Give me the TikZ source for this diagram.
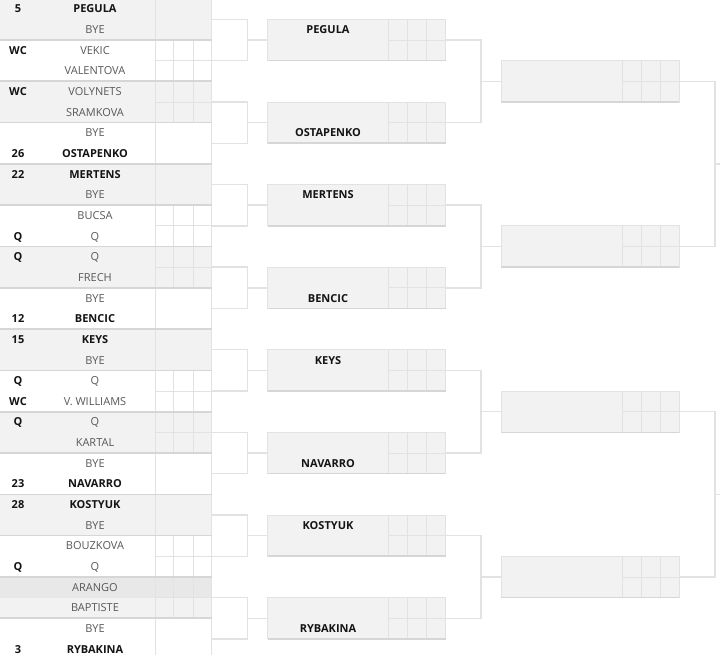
\documentclass[tikz,border=0pt]{standalone}
\usepackage{fontspec}
\setmainfont{Open Sans}
\usetikzlibrary{calc}

\definecolor{cellfill}{RGB}{242,242,242}
\definecolor{hoverfill}{RGB}{232,232,232}
\definecolor{gridline}{RGB}{226,226,226}
\definecolor{rimline}{RGB}{214,214,214}
\definecolor{inkdark}{RGB}{20,20,20}
\definecolor{inklight}{RGB}{88,88,88}

\begin{document}
\begin{tikzpicture}[x=1pt,y=-1pt]
  \tikzset{
    match/.style={rectangle, minimum width=211.5pt, minimum height=41.3pt, inner sep=0pt, outer sep=0pt, draw=none},
    slot/.style={rectangle, minimum width=178pt, minimum height=41.3pt, inner sep=0pt, outer sep=0pt, fill=cellfill, draw=gridline, line width=0.8pt},
    player/.style={font=\fontsize{11}{13}\selectfont, text=inklight, inner sep=0pt, text height=7.8pt, text depth=0pt},
    seeded/.style={player, font=\fontsize{11}{13}\selectfont\bfseries, text=inkdark},
    seedmark/.style={seeded},
    cellline/.style={draw=gridline, line width=0.8pt},
    rim/.style={draw=rimline, line width=1.6pt},
    link/.style={draw=gridline, line width=1.4pt}
  }
  \useasboundingbox[fill=white] (0,0) rectangle (720,655);

  % first round boxes
  \foreach \k in {1,...,16} {
    \pgfmathsetmacro{\yc}{-1.3+(\k-0.5)*41.3}
    \ifodd\k
      \node[match, fill=cellfill] (m\k) at (105.75,\yc) {};
    \else
      \node[match, fill=white] (m\k) at (105.75,\yc) {};
    \fi
  }
  \fill[hoverfill] (m15.north west) rectangle (m15.east);
  \foreach \k in {2,3,6,7,10,11,14,15} {
    \draw[cellline] (m\k.north west -| 173.5,0) -- (m\k.south west -| 173.5,0);
    \draw[cellline] (m\k.north west -| 193,0) -- (m\k.south west -| 193,0);
    \draw[cellline] (m\k.west -| 155,0) -- (m\k.east);
  }
  \draw[cellline] (155,0) -- (155,655);
  \draw[cellline] (211.5,0) -- (211.5,655);
  \foreach \k in {1,...,16}
    \draw[rim] (m\k.south west) -- (m\k.south east);

  % seeds
  \node[seedmark] (s1) at (18,9.0) {5};
  \node[seedmark] (s3) at (18,50.3) {WC};
  \node[seedmark] (s5) at (18,91.6) {WC};
  \node[seedmark] (s8) at (18,153.6) {26};
  \node[seedmark] (s9) at (18,174.2) {22};
  \node[seedmark] (s12) at (18,236.2) {Q};
  \node[seedmark] (s13) at (18,256.8) {Q};
  \node[seedmark] (s16) at (18,318.8) {12};
  \node[seedmark] (s17) at (18,339.4) {15};
  \node[seedmark] (s19) at (18,380.7) {Q};
  \node[seedmark] (s20) at (18,401.4) {WC};
  \node[seedmark] (s21) at (18,422.0) {Q};
  \node[seedmark] (s24) at (18,484.0) {23};
  \node[seedmark] (s25) at (18,504.6) {28};
  \node[seedmark] (s28) at (18,566.6) {Q};
  \node[seedmark] (s32) at (18,649.2) {3};

  % players
  \node[seeded] (n1) at (95,9.0) {PEGULA};
  \node[player] (n2) at (95,29.7) {BYE};
  \node[player] (n3) at (95,50.3) {VEKIC};
  \node[player] (n4) at (95,71.0) {VALENTOVA};
  \node[player] (n5) at (95,91.6) {VOLYNETS};
  \node[player] (n6) at (95,112.3) {SRAMKOVA};
  \node[player] (n7) at (95,132.9) {BYE};
  \node[seeded] (n8) at (95,153.6) {OSTAPENKO};
  \node[seeded] (n9) at (95,174.2) {MERTENS};
  \node[player] (n10) at (95,194.9) {BYE};
  \node[player] (n11) at (95,215.5) {BUCSA};
  \node[player] (n12) at (95,236.2) {Q};
  \node[player] (n13) at (95,256.8) {Q};
  \node[player] (n14) at (95,277.5) {FRECH};
  \node[player] (n15) at (95,298.1) {BYE};
  \node[seeded] (n16) at (95,318.8) {BENCIC};
  \node[seeded] (n17) at (95,339.4) {KEYS};
  \node[player] (n18) at (95,360.1) {BYE};
  \node[player] (n19) at (95,380.7) {Q};
  \node[player] (n20) at (95,401.4) {V. WILLIAMS};
  \node[player] (n21) at (95,422.0) {Q};
  \node[player] (n22) at (95,442.7) {KARTAL};
  \node[player] (n23) at (95,463.3) {BYE};
  \node[seeded] (n24) at (95,484.0) {NAVARRO};
  \node[seeded] (n25) at (95,504.6) {KOSTYUK};
  \node[player] (n26) at (95,525.3) {BYE};
  \node[player] (n27) at (95,545.9) {BOUZKOVA};
  \node[player] (n28) at (95,566.6) {Q};
  \node[player] (n29) at (95,587.2) {ARANGO};
  \node[player] (n30) at (95,607.9) {BAPTISTE};
  \node[player] (n31) at (95,628.5) {BYE};
  \node[seeded] (n32) at (95,649.2) {RYBAKINA};

  % second and third round boxes
  \node[slot] (r1) at (356.7,40.0) {};
  \node[slot] (r2) at (356.7,122.6) {};
  \node[slot] (r3) at (356.7,205.2) {};
  \node[slot] (r4) at (356.7,287.8) {};
  \node[slot] (r5) at (356.7,370.4) {};
  \node[slot] (r6) at (356.7,453.0) {};
  \node[slot] (r7) at (356.7,535.6) {};
  \node[slot] (r8) at (356.7,618.2) {};
  \node[slot] (q1) at (590.3,81.3) {};
  \node[slot] (q2) at (590.3,246.5) {};
  \node[slot] (q3) at (590.3,411.7) {};
  \node[slot] (q4) at (590.3,576.9) {};
  \foreach \s in {r1,r2,r3,r4,r5,r6,r7,r8,q1,q2,q3,q4} {
    \foreach \dx in {120.6,140,159}
      \draw[cellline] ($(\s.north west)+(\dx,0)$) -- ($(\s.south west)+(\dx,0)$);
    \draw[cellline] ($(\s.west)+(120.6,0)$) -- (\s.east);
    \draw[rim] (\s.south west) -- (\s.south east);
  }

  \node[seeded] (w1) at (328,29.7) {PEGULA};
  \node[seeded] (w2) at (328,132.9) {OSTAPENKO};
  \node[seeded] (w3) at (328,194.9) {MERTENS};
  \node[seeded] (w4) at (328,298.1) {BENCIC};
  \node[seeded] (w5) at (328,360.1) {KEYS};
  \node[seeded] (w6) at (328,463.3) {NAVARRO};
  \node[seeded] (w7) at (328,525.3) {KOSTYUK};
  \node[seeded] (w8) at (328,628.5) {RYBAKINA};

  % brackets
  \foreach \j [evaluate=\j as \a using int(2*\j-1), evaluate=\j as \b using int(2*\j)] in {1,...,8} {
    \draw[link] (m\a.east) -- ++(36.2,0) coordinate (k\j) |- (m\b.east);
    \draw[link] (k\j |- r\j.west) -- (r\j.west);
  }
  \foreach \i [evaluate=\i as \a using int(2*\i-1), evaluate=\i as \b using int(2*\i)] in {1,...,4} {
    \draw[link] (r\a.east) -- ++(35.3,0) coordinate (p\i) |- (r\b.east);
    \draw[link] (p\i |- q\i.west) -- (q\i.west);
  }
  \coordinate (u1) at (730,163.9);
  \coordinate (u2) at (730,494.3);
  \foreach \i [evaluate=\i as \a using int(2*\i-1), evaluate=\i as \b using int(2*\i)] in {1,2} {
    \draw[link] (q\a.east) -- ++(35.7,0) coordinate (t\i) |- (q\b.east);
    \draw[link] (t\i |- u\i) -- (u\i);
  }
\end{tikzpicture}
\end{document}
